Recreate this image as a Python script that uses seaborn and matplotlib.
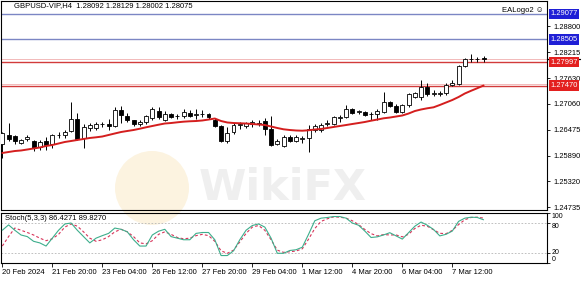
import numpy as np
import pandas as pd
import matplotlib
matplotlib.use("Agg")
import matplotlib.pyplot as plt
import matplotlib.transforms as mtransforms
from matplotlib.patches import Ellipse
import seaborn as sns

sns.set_theme(style="white")
plt.rcParams['font.family'] = ['Liberation Sans', 'DejaVu Sans']

# ---------------- data ----------------
opens = [1.26157, 1.26359, 1.26336, 1.26190, 1.26258, 1.26224, 1.26089, 1.26224, 1.26157, 1.26348,
         1.26348, 1.26438, 1.26729, 1.26292, 1.26516, 1.26516, 1.26595, 1.26617, 1.26561, 1.26920,
         1.26785, 1.26685, 1.26595, 1.26640, 1.26740, 1.26897, 1.26696, 1.26830, 1.26779, 1.26785,
         1.26864, 1.26818, 1.26823, 1.26830, 1.26696, 1.26561, 1.26213, 1.26415, 1.26583, 1.26561,
         1.26599, 1.26617, 1.26673, 1.26487, 1.26157, 1.26112, 1.26307, 1.26231, 1.26280, 1.26285,
         1.26471, 1.26471, 1.26617, 1.26606, 1.26751, 1.26756, 1.26936, 1.26877, 1.26882, 1.26825,
         1.26830, 1.26882, 1.27093, 1.27010, 1.26882, 1.27033, 1.27219, 1.27219, 1.27430, 1.27291,
         1.27291, 1.27295, 1.27482, 1.27498, 1.27909, 1.28055, 1.28059, 1.28092]
highs = [1.26426, 1.26628, 1.26359, 1.26269, 1.26359, 1.26247, 1.26247, 1.26314, 1.26381, 1.26426,
         1.26471, 1.27100, 1.26853, 1.26595, 1.26628, 1.26651, 1.26651, 1.26729, 1.26999, 1.27010,
         1.26853, 1.26706, 1.26685, 1.26818, 1.26999, 1.26988, 1.26887, 1.26864, 1.26841, 1.26932,
         1.26920, 1.26932, 1.26920, 1.26864, 1.26734, 1.26583, 1.26532, 1.26635, 1.26658, 1.26662,
         1.26696, 1.26706, 1.26734, 1.26792, 1.26258, 1.26359, 1.26348, 1.26359, 1.26336, 1.26583,
         1.26606, 1.26635, 1.26696, 1.26785, 1.26808, 1.27033, 1.26959, 1.26920, 1.26908, 1.26882,
         1.26936, 1.27331, 1.27123, 1.27044, 1.27055, 1.27309, 1.27331, 1.27594, 1.27520, 1.27370,
         1.27354, 1.27520, 1.27594, 1.27931, 1.28082, 1.28178, 1.28118, 1.28129]
lows = [1.25842, 1.26224, 1.26157, 1.26146, 1.26235, 1.25999, 1.26022, 1.26022, 1.26067, 1.26292,
        1.26292, 1.26415, 1.26247, 1.26078, 1.26438, 1.26471, 1.26539, 1.26471, 1.26539, 1.26628,
        1.26640, 1.26572, 1.26561, 1.26617, 1.26706, 1.26717, 1.26673, 1.26740, 1.26729, 1.26751,
        1.26763, 1.26729, 1.26763, 1.26717, 1.26532, 1.26208, 1.26186, 1.26381, 1.26487, 1.26516,
        1.26545, 1.26561, 1.26359, 1.26112, 1.26134, 1.26089, 1.26202, 1.26208, 1.26172, 1.25984,
        1.26433, 1.26433, 1.26561, 1.26583, 1.26658, 1.26734, 1.26830, 1.26841, 1.26785, 1.26696,
        1.26696, 1.26859, 1.26999, 1.26864, 1.26864, 1.26994, 1.27183, 1.27145, 1.27235, 1.27235,
        1.27235, 1.27257, 1.27459, 1.27482, 1.27893, 1.28005, 1.28005, 1.28002]
closes = [1.26404, 1.26269, 1.26224, 1.26247, 1.26325, 1.26067, 1.26202, 1.26134, 1.26359, 1.26359,
          1.26415, 1.26717, 1.26269, 1.26539, 1.26583, 1.26595, 1.26606, 1.26550, 1.26920, 1.26818,
          1.26696, 1.26595, 1.26651, 1.26785, 1.26954, 1.26763, 1.26841, 1.26774, 1.26790, 1.26875,
          1.26785, 1.26830, 1.26834, 1.26756, 1.26561, 1.26231, 1.26411, 1.26583, 1.26606, 1.26622,
          1.26658, 1.26628, 1.26487, 1.26134, 1.26231, 1.26321, 1.26231, 1.26307, 1.26292, 1.26487,
          1.26561, 1.26583, 1.26628, 1.26756, 1.26763, 1.26936, 1.26859, 1.26887, 1.26808, 1.26834,
          1.26904, 1.27107, 1.27017, 1.26882, 1.27033, 1.27280, 1.27295, 1.27430, 1.27280, 1.27302,
          1.27302, 1.27482, 1.27520, 1.27909, 1.28059, 1.28066, 1.28066, 1.28075]
ma_line = [1.25955, 1.25977, 1.25999, 1.26011, 1.26033, 1.26056, 1.26078, 1.26112, 1.26134, 1.26168,
           1.26202, 1.26224, 1.26247, 1.26269, 1.26292, 1.26307, 1.26325, 1.26359, 1.26393, 1.26426,
           1.26449, 1.26471, 1.26500, 1.26532, 1.26561, 1.26590, 1.26617, 1.26628, 1.26644, 1.26658,
           1.26667, 1.26673, 1.26685, 1.26706, 1.26729, 1.26673, 1.26640, 1.26628, 1.26622, 1.26617,
           1.26606, 1.26595, 1.26583, 1.26550, 1.26516, 1.26487, 1.26471, 1.26460, 1.26455, 1.26465,
           1.26482, 1.26494, 1.26516, 1.26539, 1.26561, 1.26583, 1.26606, 1.26628, 1.26651, 1.26680,
           1.26706, 1.26734, 1.26751, 1.26774, 1.26797, 1.26841, 1.26897, 1.26932, 1.26959, 1.26981,
           1.27033, 1.27089, 1.27145, 1.27212, 1.27291, 1.27352, 1.27410, 1.27471]
stoch_k = [65.5, 76.2, 65.5, 56.0, 52.8, 43.4, 40.2, 33.9, 49.7, 65.5,
           78.0, 80.0, 65.5, 52.8, 40.2, 49.7, 54.7, 59.2, 69.9, 67.4,
           62.3, 46.5, 33.9, 33.9, 56.0, 63.6, 67.4, 52.8, 49.7, 46.5,
           46.5, 59.2, 61.0, 61.0, 46.5, 14.9, 14.9, 24.4, 46.5, 65.5,
           75.0, 78.1, 71.8, 49.7, 19.4, 19.4, 25.0, 26.5, 31.6, 57.4,
           84.5, 89.7, 91.0, 92.9, 92.9, 89.7, 80.0, 75.5, 63.9, 51.0,
           52.3, 56.1, 60.6, 54.2, 47.8, 60.6, 73.5, 81.9, 75.5, 67.1,
           54.2, 57.4, 63.9, 83.2, 89.7, 91.6, 91.0, 86.4271]
stoch_d = [33.9, 52.8, 69.9, 65.5, 61.0, 56.0, 49.7, 44.6, 48.4, 57.3,
           71.8, 78.1, 73.7, 62.3, 49.7, 43.4, 46.5, 52.8, 62.3, 67.4,
           62.3, 52.8, 40.2, 38.3, 44.6, 57.3, 62.3, 57.3, 51.0, 48.4,
           49.7, 54.7, 57.3, 54.7, 43.4, 24.4, 19.4, 25.7, 42.1, 59.2,
           71.8, 75.0, 65.5, 46.5, 25.7, 21.3, 22.5, 23.9, 28.4, 47.7,
           69.0, 83.2, 88.4, 92.3, 91.6, 89.7, 84.5, 76.8, 67.1, 58.7,
           54.2, 56.8, 56.1, 56.1, 52.3, 57.4, 69.0, 75.5, 73.5, 66.5,
           59.4, 58.7, 65.2, 76.8, 86.5, 91.0, 91.6, 89.8270]
date_labels = ["20 Feb 2024", "21 Feb 20:00", "23 Feb 04:00", "26 Feb 12:00", "27 Feb 20:00",
               "29 Feb 04:00", "1 Mar 12:00", "4 Mar 20:00", "6 Mar 04:00", "7 Mar 12:00"]
label_step = 8
price_ticks = [1.28800, 1.28215, 1.27630, 1.27060, 1.26475, 1.25890, 1.25320, 1.24735]
blue_levels = [1.29077, 1.28505]
red_levels = [1.27997, 1.27470]
zone_levels = [1.28059, 1.27498]
stoch_ticks = [100, 80, 20, 0]
stoch_levels = [80, 20]
title_text = "GBPUSD-VIP,H4  1.28092 1.28129 1.28002 1.28075"
stoch_text = "Stoch(5,3,3) 86.4271 89.8270"
logo_text = "EALogo2 \u263a"

# ---------------- figure ----------------
W, H = 583, 281
fig = plt.figure(figsize=(W / 100, H / 100), dpi=100)
fig.patch.set_facecolor("white")

def fx(px):
    return px / W

def fy(py):
    return 1 - py / H

ax = fig.add_axes([fx(1), fy(210), fx(546), 209 / H])
ax2 = fig.add_axes([fx(1), fy(263), fx(546), 50 / H])
for a in (ax, ax2):
    a.patch.set_alpha(0)
    for s in a.spines.values():
        s.set_color("black")
        s.set_linewidth(0.8)

# watermark behind
fig.patches.append(Ellipse((fx(152), fy(188)), 74 / W, 74 / H, transform=fig.transFigure,
                           facecolor="#fcf3e0", edgecolor="none", zorder=-2))
fig.text(fx(283), fy(188), "WikiFX", fontsize=31, fontweight="bold", color="#efefef",
         ha="center", va="center", zorder=-1, family=["DejaVu Sans"])

n = len(closes)
idx = np.arange(n)
df = pd.DataFrame({"i": idx, "open": opens, "high": highs, "low": lows, "close": closes,
                   "ma": ma_line, "k": stoch_k, "d": stoch_d})

# horizontal levels
for lv in blue_levels:
    ax.axhline(lv, color="#7b86c4", lw=1.0, zorder=1)
for lv in red_levels:
    ax.axhline(lv, color="#d23b3b", lw=1.0, zorder=1)
for lv in zone_levels:
    ax.axhline(lv, color="#f2b9b9", lw=0.7, zorder=1)

# candles
ax.vlines(df["i"], df["low"], df["high"], color="black", lw=0.7, zorder=2)
body_bottom = np.minimum(df["open"], df["close"])
body_h = np.abs(df["close"] - df["open"])
face = np.where(df["close"] >= df["open"], "white", "black")
ax.bar(df["i"], body_h, bottom=body_bottom, width=0.62, color=face, edgecolor="black",
       linewidth=0.6, zorder=3)

# moving average
sns.lineplot(data=df, x="i", y="ma", ax=ax, color="#d41e1e", lw=1.4, zorder=4, legend=False)

ax.set_xlim(-0.21, 87.15)
ax.set_ylim(1.24674, 1.29369)
ax.set_xlabel("")
ax.set_ylabel("")
ax.set_xticks([])
ax.yaxis.tick_right()
ax.set_yticks(price_ticks)
ax.set_yticklabels([f"{p:.5f}" for p in price_ticks])
ax.tick_params(axis="y", direction="out", length=2.5, width=0.6, pad=2, labelsize=5.4,
               colors="black", right=True, left=False)

# price label boxes
tr = mtransforms.blended_transform_factory(ax.transAxes, ax.transData)
for lv in blue_levels:
    ax.text(1.006, lv, f"{lv:.5f}", transform=tr, ha="left", va="center", fontsize=5.4,
            color="white", clip_on=False, zorder=6,
            bbox=dict(boxstyle="square,pad=0.22", fc="#1f1fd6", ec="none"))
for lv in red_levels:
    ax.text(1.006, lv, f"{lv:.5f}", transform=tr, ha="left", va="center", fontsize=5.4,
            color="white", clip_on=False, zorder=6,
            bbox=dict(boxstyle="square,pad=0.22", fc="#e3201f", ec="none"))
ax.plot([1.0, 1.06], [closes[-1], closes[-1]], transform=tr, color="black", lw=0.9,
        clip_on=False, zorder=5)

ax.text(fx(13) / fx(546), 1 - 5 / 209, title_text, transform=ax.transAxes, ha="left", va="center",
        fontsize=5.5, color="black")
ax.text(1 - 3 / 546, 1 - 10 / 209, logo_text, transform=ax.transAxes, ha="right", va="center",
        fontsize=5.5, color="black")

# stochastic panel
for lv in stoch_levels:
    ax2.axhline(lv, color="#b5b5b5", lw=0.6, ls=(0, (2, 2)), zorder=1)
sns.lineplot(data=df, x="i", y="k", ax=ax2, color="#3dae8c", lw=0.8, zorder=3, legend=False)
sns.lineplot(data=df, x="i", y="d", ax=ax2, color="#d8345a", lw=0.8, zorder=2, legend=False)
ax2.lines[-1].set_linestyle((0, (2.5, 2)))
ax2.set_xlim(-0.21, 87.15)
ax2.set_ylim(0, 100)
ax2.set_xlabel("")
ax2.set_ylabel("")
ax2.yaxis.tick_right()
ax2.set_yticks(stoch_ticks)
ax2.set_yticklabels([""] * len(stoch_ticks))
ax2.tick_params(axis="y", direction="out", length=2.5, width=0.6, pad=2, labelsize=5.0,
                colors="black", right=True, left=False)
# right-hand level labels, placed like the terminal does (slightly squeezed)
tr2 = mtransforms.blended_transform_factory(ax2.transAxes, ax2.transData)
label_pos = {100: (100, "top"), 80: (80, "top"), 20: (20, "center"), 0: (0, "bottom")}
for t in stoch_ticks:
    yv, va = label_pos[t]
    ax2.text(1.008, yv, str(t), transform=tr2, ha="left", va=va, fontsize=5.0,
             color="black", clip_on=False)
ax2.set_xticks(np.arange(len(date_labels)) * label_step)
ax2.set_xticklabels(date_labels)
ax2.tick_params(axis="x", direction="out", length=3, width=0.6, pad=1.5, labelsize=5.5,
                colors="black", bottom=True)
for t in ax2.get_xticklabels():
    t.set_ha("left")
ax2.text(4 / 546, 1 - 6 / 50, stoch_text, transform=ax2.transAxes, ha="left", va="center",
         fontsize=5.5, color="black")

fig.savefig("out.png", dpi=100, facecolor="white")
